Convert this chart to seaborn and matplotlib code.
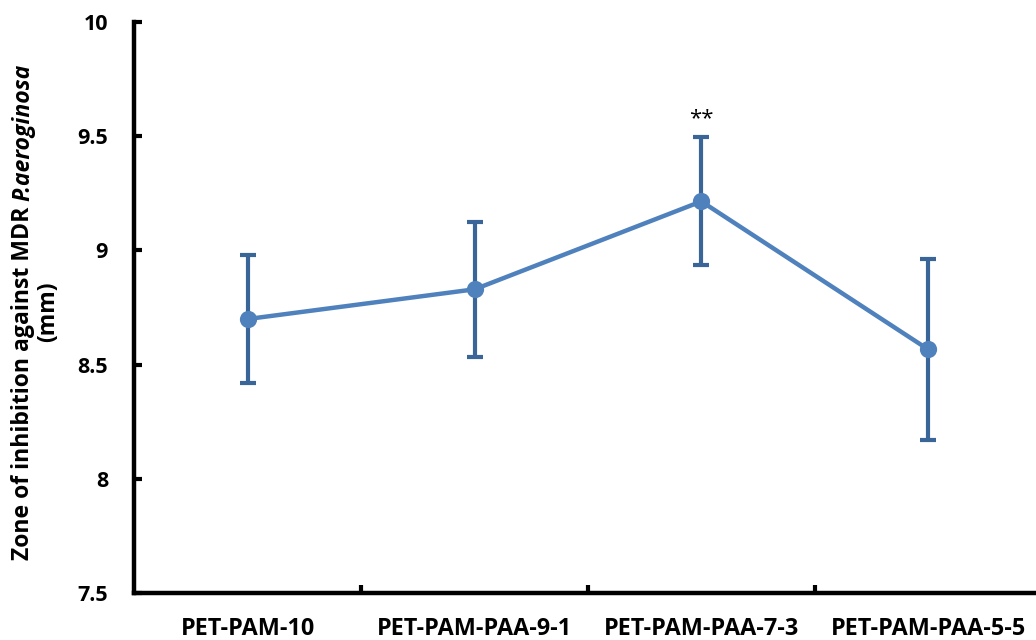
import matplotlib
matplotlib.use("Agg")
import matplotlib.pyplot as plt
import seaborn as sns
import numpy as np

# Inhibition zone results (mm) for each membrane
samples = ["PET-PAM-10", "PET-PAM-PAA-9-1", "PET-PAM-PAA-7-3", "PET-PAM-PAA-5-5"]
mean_zone = [8.70, 8.83, 9.215, 8.567]
sd_zone = [0.28, 0.296, 0.28, 0.395]
significance = ["", "", "**", ""]
y_ticks = [7.5, 8, 8.5, 9, 9.5, 10]
y_tick_labels = ["7.5", "8", "8.5", "9", "9.5", "10"]
ylabel_plain = "Zone of inhibition against MDR"
ylabel_italic = "P.aeroginosa"
ylabel_unit = "(mm)"

sns.set_theme(style="white")
plt.rcParams["font.family"] = ["Open Sans", "DejaVu Sans"]

line_color = "#4F81BD"
err_color = "#3A6599"
W, H = 1036, 640

fig = plt.figure(figsize=(W / 100, H / 100), dpi=100)
ax = fig.add_axes([0.1298, 0.0734, 0.8755, 0.892])

x = np.arange(len(samples))
ax.errorbar(x, mean_zone, yerr=sd_zone, fmt="none", ecolor=err_color,
            elinewidth=3, capsize=6, capthick=3, zorder=2)
sns.pointplot(x=samples, y=mean_zone, errorbar=None, color=line_color,
              markers="o", markersize=10, linewidth=3.2, ax=ax, zorder=3)

for xi, m, s, lab in zip(x, mean_zone, sd_zone, significance):
    if lab:
        ax.text(xi, m + s + 0.035, lab, ha="center", va="bottom",
                fontsize=16, color="black")

ax.set_xlim(-0.5, 3.5)
ax.set_ylim(7.5, 10)
ax.set_yticks(y_ticks)
ax.set_yticklabels(y_tick_labels, fontsize=15.5, fontweight="bold")
ax.set_xticks(x)
ax.set_xticklabels(samples, fontsize=16.8, fontweight="bold")
ax.set_xticks([0.5, 1.5, 2.5], minor=True)
ax.tick_params(axis="x", which="major", length=0, pad=17, colors="black")
ax.tick_params(axis="x", which="minor", direction="in", length=6, width=3,
               color="black", bottom=True)
ax.tick_params(axis="y", which="major", direction="in", length=6, width=3,
               color="black", left=True, pad=19, labelcolor="black")

for side in ["top", "right"]:
    ax.spines[side].set_visible(False)
for side in ["left", "bottom"]:
    ax.spines[side].set_color("black")
    ax.spines[side].set_linewidth(3.2)
ax.set_xlabel("")
ax.set_ylabel("")
ax.grid(False)

# Two-line rotated y label with an italic species name
lab_font = dict(fontsize=16.6, fontweight="bold", color="black")
renderer = fig.canvas.get_renderer()


def text_width(s, **kw):
    t = fig.text(0, 0, s, **kw)
    w = t.get_window_extent(renderer).width
    t.remove()
    return w


w_plain = text_width(ylabel_plain, **lab_font)
w_ital = text_width(ylabel_italic, style="italic", **lab_font)
w_space = text_width("a a", **lab_font) - text_width("aa", **lab_font)
total = w_plain + w_space + w_ital
center_y = H - 312
y0 = center_y - total / 2
base1_x, base2_x = 29, 54

common = dict(rotation=90, rotation_mode="anchor", va="baseline", **lab_font)
fig.text(base1_x / W, y0 / H, ylabel_plain, ha="left", **common)
fig.text(base1_x / W, (y0 + w_plain + w_space) / H, ylabel_italic, ha="left",
         style="italic", **common)
fig.text(base2_x / W, center_y / H, ylabel_unit, ha="center", **common)

fig.savefig("out.png", dpi=100)
